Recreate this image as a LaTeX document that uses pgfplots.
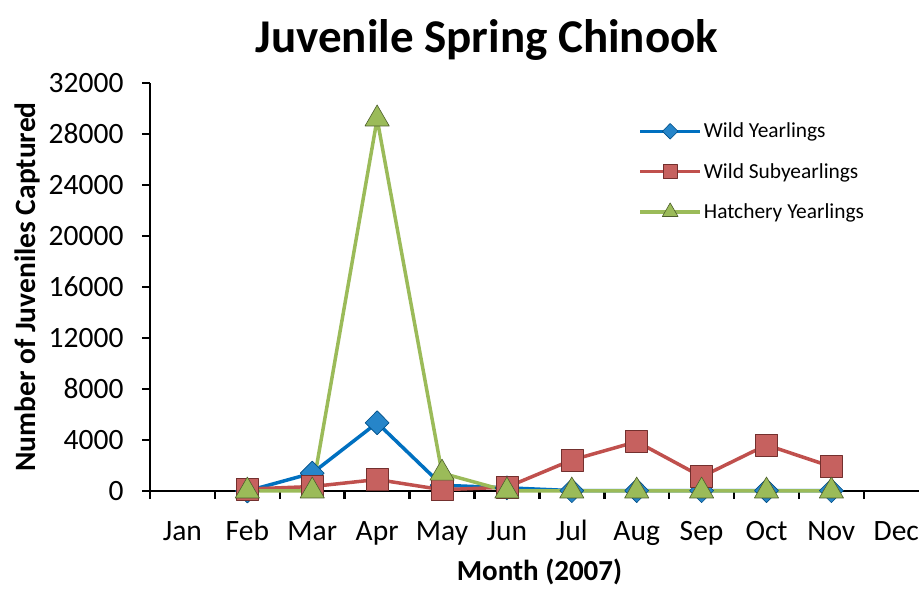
\documentclass[border=0pt]{standalone}
\usepackage{pgfplots}
\pgfplotsset{compat=1.18}
\usepackage{fontspec}
\setmainfont{Carlito}

\definecolor{wyblue}{RGB}{0,112,192}
\definecolor{wsred}{RGB}{192,80,77}
\definecolor{hygreen}{RGB}{155,187,89}

\begin{document}
\begin{tikzpicture}
\begin{axis}[
	at={(0,0)}, anchor=south west,
	scale only axis,
	width=769pt, height=408pt,
	xmin=-0.5, xmax=11.35,
	ymin=0, ymax=32000,
	axis lines=left,
	axis line style={line width=2.5pt, -},
	clip=false,
	ytick={0,4000,...,32000},
	scaled y ticks=false,
	yticklabel style={xshift=-15pt, /pgf/number format/.cd, 1000 sep={}, assume math mode=true},
	xtick={-0.5,0.5,...,10.5},
	xticklabels={},
	extra x ticks={0,1,...,11},
	extra x tick labels={Jan,Feb,Mar,Apr,May,Jun,Jul,Aug,Sep,Oct,Nov,Dec},
	extra x tick style={tick style={draw=none}, xticklabel style={anchor=base, yshift=-41pt}},
	tick style={black, line width=2.5pt},
	tick align=outside,
	major tick length=8pt,
	ticklabel style={font=\fontsize{29.5}{32}\selectfont},
	title={\textbf{Juvenile Spring Chinook}},
	title style={font=\fontsize{47}{50}\selectfont, at={(axis description cs:0.438,1.09)}, anchor=center},
	xlabel={\textbf{Month (2007)}},
	ylabel={\textbf{Number of Juveniles Captured}},
	xlabel style={font=\fontsize{29}{32}\selectfont, at={(axis description cs:0.5065,-0.199)}, anchor=center},
	ylabel style={font=\fontsize{29.5}{32}\selectfont, at={(axis description cs:-0.159,0.5)}, anchor=center, rotate=0},
	legend style={at={(0.631,0.912)}, anchor=north west, draw=none, fill=none,
		font=\fontsize{21.4}{24}\selectfont, row sep=20pt,
		/tikz/every even column/.append style={column sep=2pt}},
	legend cell align=left,
	legend image code/.code={
		\draw[#1, mark repeat=2, mark phase=2, every mark/.append style={scale=0.65}]
		plot coordinates {(0pt,0pt) (30pt,0pt) (60pt,0pt)};},
	line join=round,
]
\addplot[wyblue, line width=3.5pt, mark=diamond*, mark size=12pt,
	mark options={xscale=1.33, fill=wyblue!85, draw=wyblue!70!black, line width=0.6pt}]
	coordinates {(1,0) (2,1400) (3,5350) (4,450) (5,250) (6,30) (7,30) (8,30) (9,30) (10,30)};
\addlegendentry{Wild Yearlings}
\addplot[wsred, line width=3.5pt, mark=square*, mark size=11pt,
	mark options={fill=wsred!90, draw=wsred!60!black, line width=0.6pt}]
	coordinates {(1,150) (2,350) (3,900) (4,100) (5,300) (6,2430) (7,3870) (8,1120) (9,3610) (10,1910)};
\addlegendentry{Wild Subyearlings}
\addplot[hygreen, line width=3.5pt, mark=triangle*, mark size=14pt,
	mark options={fill=hygreen, draw=hygreen!50!black, line width=0.6pt}]
	coordinates {(1,0) (2,0) (3,29180) (4,1400) (5,0) (6,0) (7,0) (8,0) (9,0) (10,0)};
\addlegendentry{Hatchery Yearlings}
\end{axis}
\pgfresetboundingbox
\path (-150pt,-98pt) rectangle (769pt,491pt);
\end{tikzpicture}
\end{document}
